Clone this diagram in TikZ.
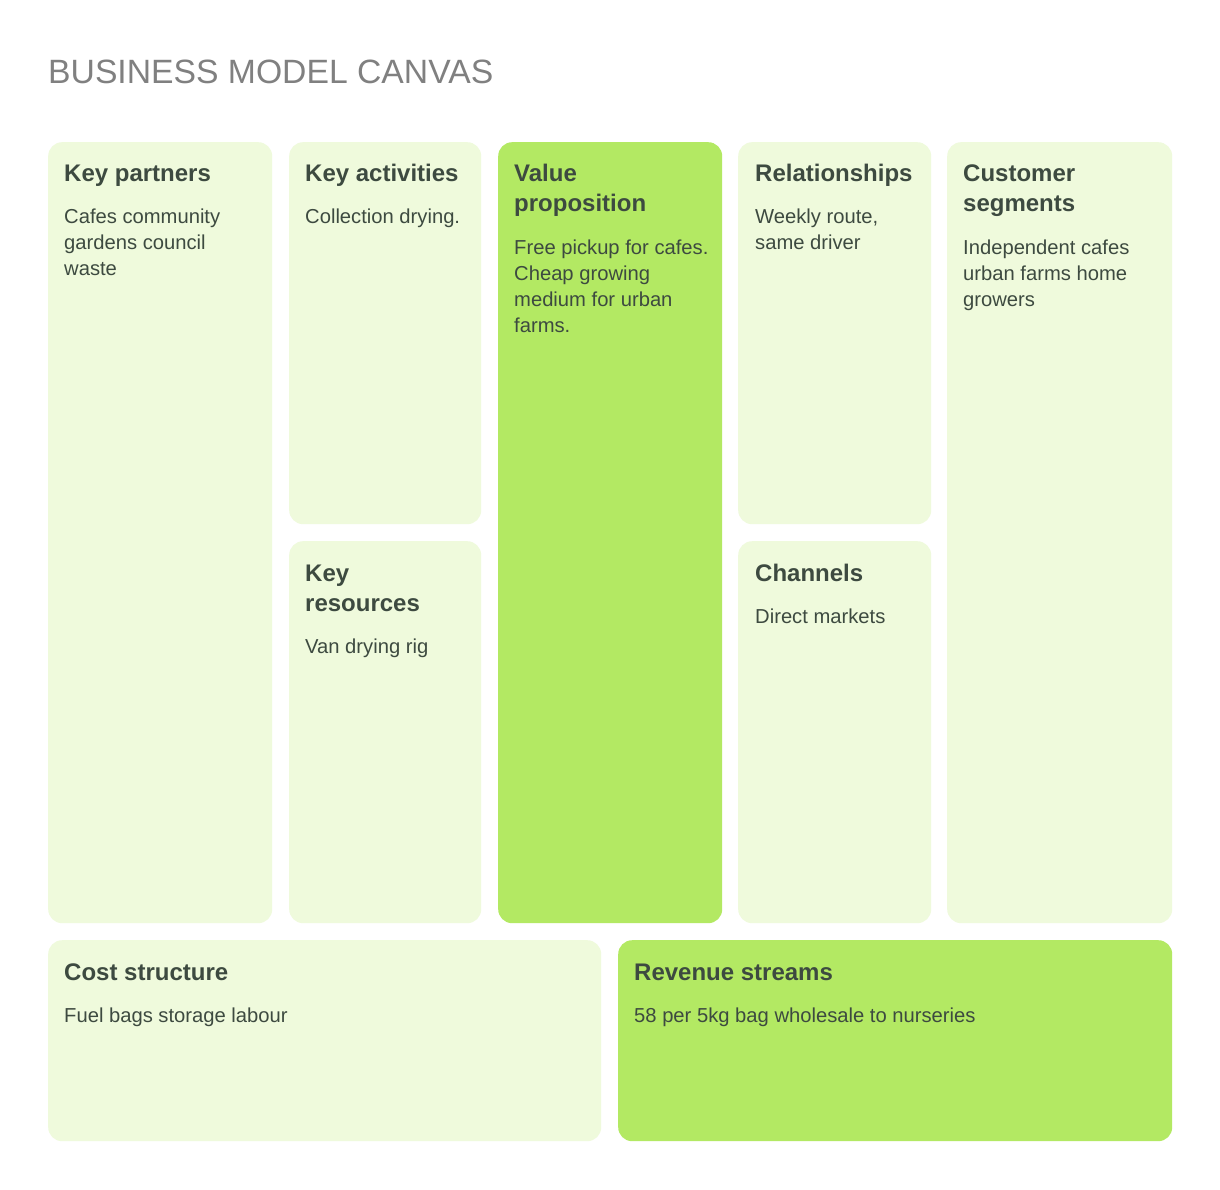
\documentclass[tikz,border=0pt]{standalone}
\usepackage{fontspec}
\setmainfont{Liberation Sans}
\definecolor{cardlight}{HTML}{EFFADC}
\definecolor{cardbright}{HTML}{B3E963}
\definecolor{inktext}{HTML}{3D4A40}
\definecolor{titlegray}{HTML}{808080}
\tikzset{
  card/.style={rounded corners=14pt, draw=none, inner sep=0pt, anchor=north west},
  lightcard/.style={card, fill=cardlight},
  brightcard/.style={card, fill=cardbright},
  heading/.style={anchor=base west, inner sep=0pt, align=left, text=inktext,
    font=\fontsize{24}{30}\selectfont\bfseries},
  bodytext/.style={anchor=base west, inner sep=0pt, align=left, text=inktext,
    font=\fontsize{20.2}{26}\selectfont},
  titletext/.style={anchor=base west, inner sep=0pt, text=titlegray,
    font=\fontsize{33.7}{40}\selectfont},
}
\begin{document}
\begin{tikzpicture}[x=1pt,y=-1pt]
\useasboundingbox (0,0) rectangle (1220,1190);
\fill[white] (0,0) rectangle (1220,1190);

\node[titletext] (title) at (48,84) {BUSINESS MODEL CANVAS};

% cards
\node[lightcard, minimum width=224pt, minimum height=781pt] (kp) at (48,142) {};
\node[lightcard, minimum width=192pt, minimum height=382pt] (ka) at (289,142) {};
\node[lightcard, minimum width=192pt, minimum height=382pt] (kr) at (289,541) {};
\node[brightcard, minimum width=224pt, minimum height=781pt] (vp) at (498,142) {};
\node[lightcard, minimum width=193pt, minimum height=382pt] (cr) at (738,142) {};
\node[lightcard, minimum width=193pt, minimum height=382pt] (ch) at (738,541) {};
\node[lightcard, minimum width=225pt, minimum height=781pt] (cs) at (947,142) {};
\node[lightcard, minimum width=553pt, minimum height=201pt] (cost) at (48,940) {};
\node[brightcard, minimum width=554pt, minimum height=201pt] (rev) at (618,940) {};

% (multi-line nodes are placed by the baseline of their last line)
% Key partners
\node[heading] (kph) at (64,182) {Key partners};
\node[bodytext] (kpb) at (64,276) {Cafes community\\gardens council\\waste};
% Key activities
\node[heading] (kah) at (305,182) {Key activities};
\node[bodytext] (kab) at (305,224) {Collection drying.};
% Key resources
\node[heading] (krh) at (305,611) {Key\\resources};
\node[bodytext] (krb) at (305,653) {Van drying rig};
% Value proposition
\node[heading] (vph) at (514,212) {Value\\proposition};
\node[bodytext] (vpb) at (514,332) {Free pickup for cafes.\\Cheap growing\\medium for urban\\farms.};
% Relationships
\node[heading] (crh) at (755,182) {Relationships};
\node[bodytext] (crb) at (755,250) {Weekly route,\\same driver};
% Channels
\node[heading] (chh) at (755,581) {Channels};
\node[bodytext] (chb) at (755,623) {Direct markets};
% Customer segments
\node[heading] (csh) at (963,212) {Customer\\segments};
\node[bodytext] (csb) at (963,306) {Independent cafes\\urban farms home\\growers};
% Cost structure
\node[heading] (costh) at (64,980) {Cost structure};
\node[bodytext] (costb) at (64,1022) {Fuel bags storage labour};
% Revenue streams
\node[heading] (revh) at (634,980) {Revenue streams};
\node[bodytext] (revb) at (634,1022) {58 per 5kg bag wholesale to nurseries};
\end{tikzpicture}
\end{document}
